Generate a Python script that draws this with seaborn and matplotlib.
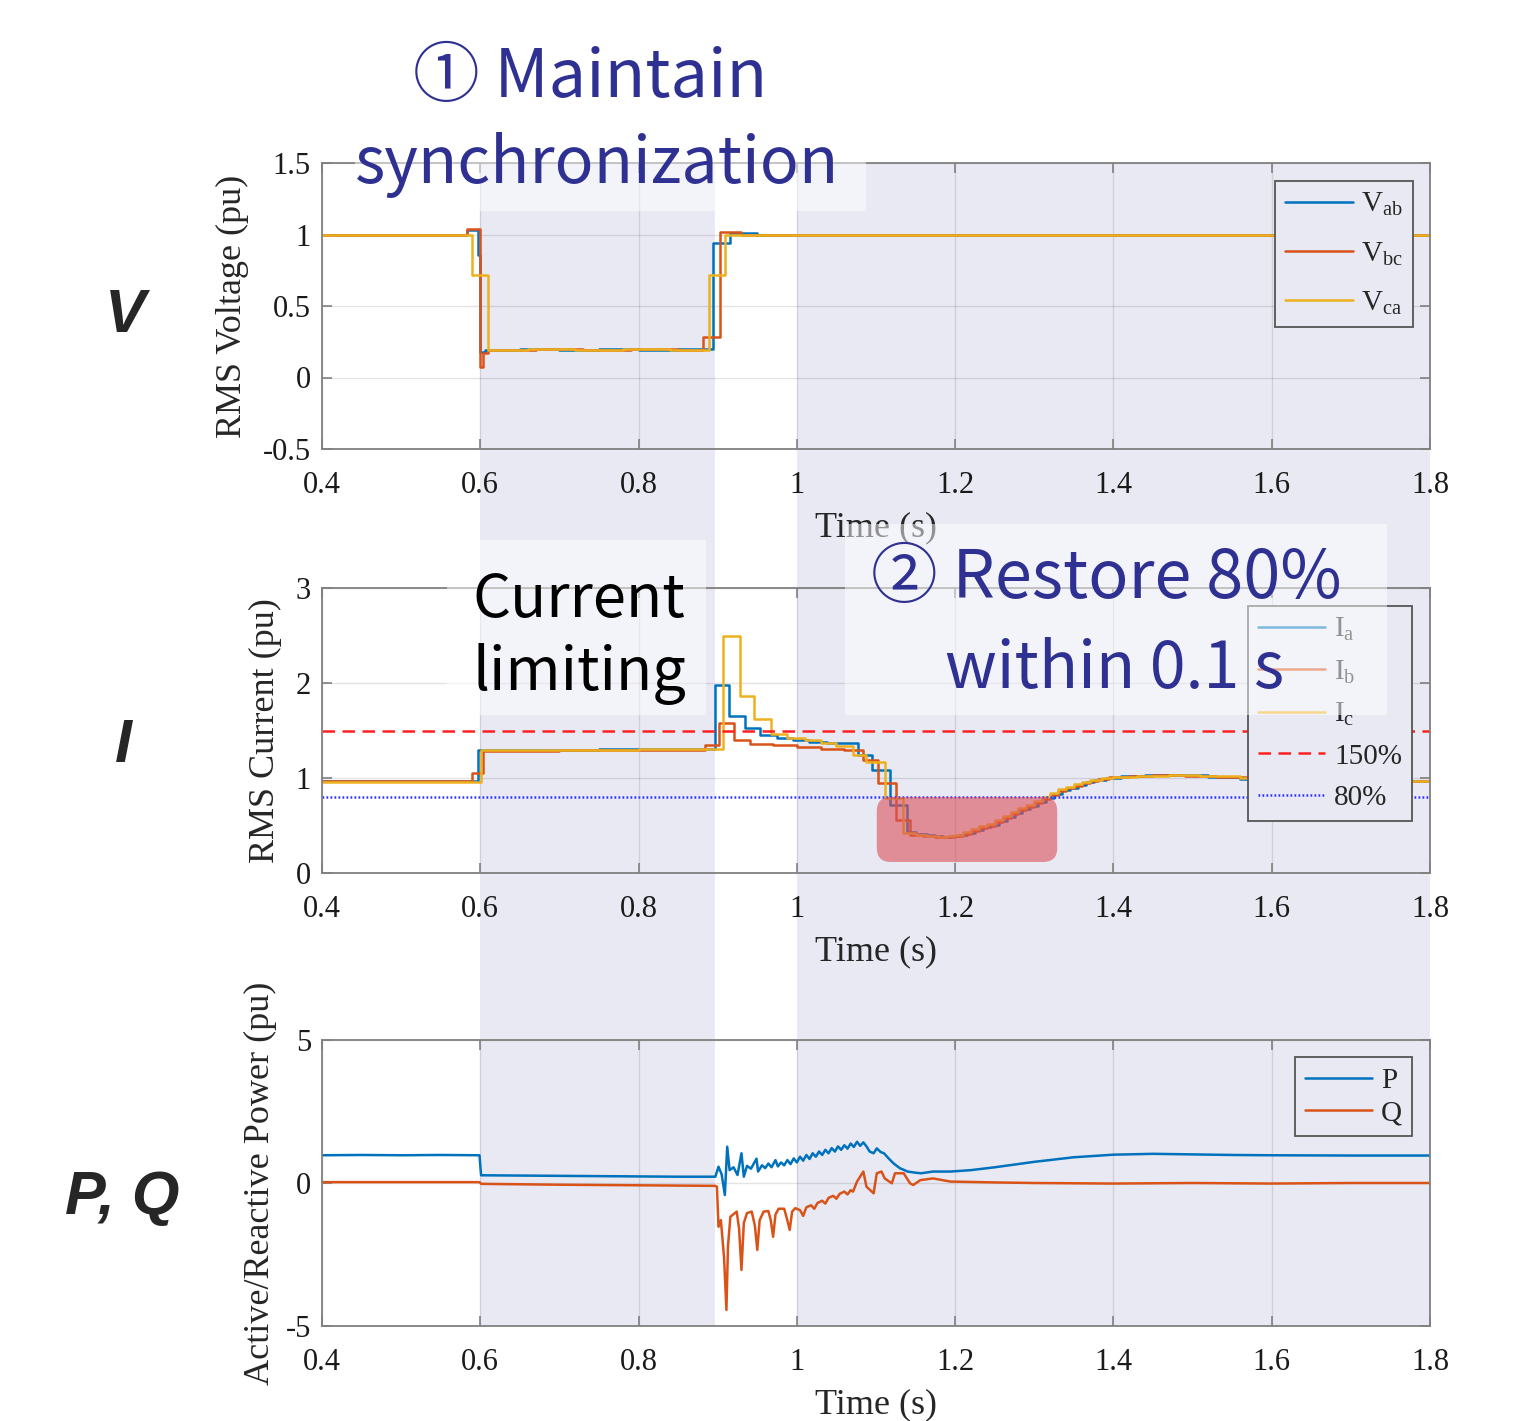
import matplotlib
matplotlib.use("Agg")
import matplotlib.pyplot as plt
import matplotlib.patches as mpatches
import matplotlib.transforms as mtransforms
from matplotlib.ticker import FuncFormatter, MultipleLocator
import seaborn as sns

sns.set_theme(style="ticks")
plt.rcParams["font.family"] = ["Liberation Serif", "DejaVu Serif"]
plt.rcParams["mathtext.fontset"] = "custom"
plt.rcParams["mathtext.rm"] = "Liberation Serif"
plt.rcParams["mathtext.it"] = "Liberation Serif:italic"
plt.rcParams["axes.unicode_minus"] = False

BLUE, ORANGE, YELLOW = "#0072BD", "#D95319", "#EDB120"
SHADE = "#e8e9f3"
NAVY = "#2e3192"
SPINE = "#808080"

# ---- RMS voltage (pu), stepwise ----
T_VAB = [0.40, 0.583, 0.597, 0.600, 0.606, 0.65, 0.70, 0.75, 0.80, 0.85, 0.894, 0.915, 0.95, 1.10, 1.30, 1.50, 1.80]
V_AB = [1.00, 1.03, 0.86, 0.18, 0.19, 0.20, 0.19, 0.20, 0.19, 0.20, 0.94, 1.01, 1.00, 1.00, 1.00, 1.00, 1.00]
T_VBC = [0.40, 0.583, 0.600, 0.603, 0.61, 0.67, 0.73, 0.79, 0.85, 0.881, 0.903, 0.93, 1.10, 1.30, 1.50, 1.80]
V_BC = [1.00, 1.04, 0.07, 0.17, 0.19, 0.20, 0.19, 0.20, 0.19, 0.28, 1.02, 1.00, 1.00, 1.00, 1.00, 1.00]
T_VCA = [0.40, 0.589, 0.610, 0.66, 0.72, 0.78, 0.84, 0.889, 0.909, 0.95, 1.20, 1.50, 1.80]
V_CA = [1.00, 0.72, 0.19, 0.20, 0.19, 0.20, 0.19, 0.72, 1.00, 1.00, 1.00, 1.00, 1.00]

# ---- RMS current (pu), stepwise ----
T_IA = [0.40, 0.50, 0.597, 0.65, 0.75, 0.85, 0.897, 0.914, 0.934, 0.953, 0.975, 0.995, 1.015, 1.038,
        1.077, 1.095, 1.118, 1.139, 1.150, 1.165, 1.175, 1.185, 1.195, 1.205, 1.215, 1.225, 1.235,
        1.245, 1.255, 1.265, 1.275, 1.285, 1.295, 1.305, 1.315, 1.325, 1.335, 1.345, 1.355, 1.365,
        1.375, 1.39, 1.41, 1.44, 1.48, 1.52, 1.56, 1.62, 1.70, 1.80]
I_A = [0.97, 0.97, 1.29, 1.30, 1.31, 1.31, 1.98, 1.65, 1.53, 1.45, 1.42, 1.40, 1.38, 1.37,
       1.24, 1.08, 0.72, 0.43, 0.41, 0.40, 0.39, 0.38, 0.39, 0.40, 0.42, 0.45, 0.48,
       0.51, 0.55, 0.59, 0.63, 0.67, 0.71, 0.75, 0.79, 0.83, 0.87, 0.90, 0.93, 0.96,
       0.98, 1.00, 1.02, 1.03, 1.03, 1.01, 0.99, 0.98, 0.97, 0.97]
T_IB = [0.40, 0.50, 0.590, 0.603, 0.70, 0.80, 0.884, 0.901, 0.920, 0.941, 0.97, 1.00, 1.03, 1.06,
        1.083, 1.103, 1.125, 1.143, 1.16, 1.175, 1.19, 1.20, 1.21, 1.22, 1.23, 1.24, 1.25,
        1.26, 1.27, 1.28, 1.29, 1.30, 1.31, 1.32, 1.33, 1.34, 1.35, 1.36, 1.37, 1.38,
        1.395, 1.42, 1.45, 1.49, 1.53, 1.58, 1.64, 1.72, 1.80]
I_B = [0.97, 0.97, 1.05, 1.28, 1.29, 1.30, 1.35, 1.58, 1.40, 1.36, 1.35, 1.33, 1.31, 1.29,
       1.19, 0.95, 0.56, 0.40, 0.39, 0.38, 0.38, 0.39, 0.41, 0.44, 0.47, 0.50, 0.54,
       0.58, 0.62, 0.66, 0.70, 0.74, 0.78, 0.82, 0.86, 0.89, 0.92, 0.95, 0.97, 0.99,
       1.01, 1.02, 1.03, 1.02, 1.01, 0.99, 0.98, 0.97, 0.97]
T_IC = [0.40, 0.50, 0.601, 0.70, 0.80, 0.88, 0.907, 0.928, 0.946, 0.967, 0.988, 1.01, 1.03, 1.05,
        1.071, 1.087, 1.111, 1.134, 1.15, 1.165, 1.18, 1.19, 1.20, 1.21, 1.22, 1.23, 1.24,
        1.25, 1.26, 1.27, 1.28, 1.29, 1.30, 1.31, 1.32, 1.33, 1.34, 1.35, 1.36, 1.37,
        1.385, 1.40, 1.43, 1.47, 1.51, 1.56, 1.62, 1.70, 1.80]
I_C = [0.96, 0.96, 1.30, 1.30, 1.31, 1.31, 2.49, 1.86, 1.62, 1.46, 1.42, 1.40, 1.37, 1.34,
       1.24, 1.17, 0.79, 0.42, 0.40, 0.39, 0.38, 0.39, 0.40, 0.43, 0.46, 0.49, 0.52,
       0.56, 0.60, 0.64, 0.68, 0.72, 0.76, 0.80, 0.84, 0.88, 0.91, 0.94, 0.96, 0.98,
       1.00, 1.01, 1.02, 1.03, 1.02, 1.00, 0.98, 0.97, 0.97]
I_LIMIT, I_TARGET = 1.5, 0.8

# ---- active / reactive power (pu) ----
T_P = [0.400, 0.450, 0.500, 0.550, 0.599, 0.601, 0.650, 0.700, 0.750, 0.800, 0.850, 0.897,
       0.901, 0.905, 0.909, 0.912, 0.915, 0.920, 0.925, 0.930, 0.933, 0.937, 0.942, 0.949,
       0.951, 0.956, 0.960, 0.964, 0.968, 0.973, 0.976, 0.980, 0.984, 0.988, 0.992, 0.996,
       1.000, 1.004, 1.008, 1.012, 1.016, 1.020, 1.024, 1.028, 1.032, 1.036, 1.040, 1.044,
       1.048, 1.052, 1.056, 1.060, 1.064, 1.068, 1.072, 1.076, 1.080, 1.084, 1.088, 1.092,
       1.097, 1.101, 1.106, 1.110, 1.116, 1.122, 1.130, 1.140, 1.150, 1.157, 1.172, 1.194,
       1.22, 1.25, 1.30, 1.35, 1.40, 1.45, 1.50, 1.55, 1.60, 1.70, 1.80]
P = [0.97, 0.98, 0.97, 0.98, 0.97, 0.27, 0.26, 0.25, 0.24, 0.23, 0.22, 0.22,
     0.57, 0.30, -0.42, 1.27, 0.45, 0.55, 0.28, 1.04, 0.22, 0.60, 0.50, 0.85,
     0.40, 0.62, 0.52, 0.68, 0.55, 0.80, 0.58, 0.72, 0.62, 0.80, 0.66, 0.86,
     0.72, 0.92, 0.78, 0.98, 0.84, 1.04, 0.92, 1.10, 0.98, 1.16, 1.04, 1.22,
     1.10, 1.28, 1.16, 1.32, 1.20, 1.38, 1.26, 1.44, 1.30, 1.42, 1.28, 1.10,
     1.04, 1.21, 1.08, 1.04, 0.86, 0.69, 0.52, 0.40, 0.36, 0.34, 0.40, 0.40,
     0.45, 0.55, 0.74, 0.90, 0.99, 1.02, 1.00, 0.98, 0.97, 0.96, 0.96]
T_Q = [0.400, 0.500, 0.599, 0.601, 0.700, 0.800, 0.897, 0.899, 0.901, 0.904, 0.908, 0.911,
       0.913, 0.916, 0.924, 0.927, 0.930, 0.933, 0.937, 0.943, 0.947, 0.950, 0.953, 0.958,
       0.964, 0.967, 0.970, 0.973, 0.977, 0.984, 0.987, 0.991, 0.994, 0.998, 1.004, 1.008,
       1.012, 1.018, 1.022, 1.026, 1.032, 1.036, 1.040, 1.046, 1.050, 1.054, 1.060, 1.064,
       1.068, 1.071, 1.076, 1.084, 1.088, 1.097, 1.101, 1.107, 1.111, 1.120, 1.124, 1.135,
       1.143, 1.147, 1.156, 1.172, 1.194, 1.25, 1.30, 1.40, 1.50, 1.60, 1.70, 1.80]
Q = [0.03, 0.03, 0.03, -0.03, -0.06, -0.08, -0.10, -0.13, -1.53, -1.30, -2.60, -4.44,
     -2.20, -1.18, -1.00, -1.60, -3.04, -1.40, -1.05, -1.00, -1.50, -2.34, -1.30, -1.00,
     -0.98, -1.30, -1.88, -1.10, -0.90, -0.90, -1.20, -1.64, -1.00, -0.88, -0.95, -1.15,
     -0.85, -0.78, -0.90, -0.70, -0.62, -0.72, -0.52, -0.45, -0.55, -0.38, -0.30, -0.40,
     -0.25, -0.30, 0.05, 0.40, -0.13, -0.36, 0.34, 0.40, 0.16, -0.01, 0.34, 0.34,
     -0.01, -0.07, 0.10, 0.16, 0.05, 0.02, 0.00, -0.02, 0.00, -0.02, 0.00, 0.00]

SHADED = [(0.6, 0.897), (1.0, 1.8)]
HIGHLIGHT = (1.101, 1.329, 0.116, 0.80)   # t0, t1, i0, i1 of the red trough box

W, H = 1527, 1421
fig = plt.figure(figsize=(W / 100, H / 100), dpi=100)


def fig_box(x0, y0, x1, y1):
    return [x0 / W, 1 - y1 / H, (x1 - x0) / W, (y1 - y0) / H]


ax1 = fig.add_axes(fig_box(322, 163, 1430, 449))
ax2 = fig.add_axes(fig_box(322, 588, 1430, 873))
ax3 = fig.add_axes(fig_box(322, 1040, 1430, 1326))

fmt = FuncFormatter(lambda v, _: f"{v:g}")
for ax in (ax1, ax2, ax3):
    ax.set_facecolor("none")
    ax.set_xlim(0.4, 1.8)
    ax.xaxis.set_major_locator(MultipleLocator(0.2))
    ax.xaxis.set_major_formatter(fmt)
    ax.yaxis.set_major_formatter(fmt)
    ax.grid(True, color="k", alpha=0.12, lw=1.0)
    for s in ax.spines.values():
        s.set_color(SPINE)
        s.set_linewidth(1.3)
    ax.tick_params(direction="in", length=7, width=1.2, color=SPINE,
                   top=True, right=True, labelsize=22, labelcolor="#1a1a1a")
    ax.tick_params(axis="x", pad=16)
    ax.tick_params(axis="y", pad=8)
    ax.set_xlabel("Time (s)", fontsize=26, labelpad=8)

lw = 1.8
sns.lineplot(x=T_VAB, y=V_AB, ax=ax1, color=BLUE, lw=lw, drawstyle="steps-post", estimator=None)
sns.lineplot(x=T_VBC, y=V_BC, ax=ax1, color=ORANGE, lw=lw, drawstyle="steps-post", estimator=None)
sns.lineplot(x=T_VCA, y=V_CA, ax=ax1, color=YELLOW, lw=lw, drawstyle="steps-post", estimator=None)
ax1.set_ylim(-0.5, 1.5)
ax1.yaxis.set_major_locator(MultipleLocator(0.5))
ax1.set_ylabel("RMS Voltage (pu)", fontsize=26, labelpad=10)
leg_kw = dict(loc="upper right", borderaxespad=0, fontsize=21, fancybox=False,
              edgecolor="#555555", facecolor=SHADE, framealpha=1,
              handlelength=2.3, handletextpad=0.3, borderpad=0.35)
leg = ax1.legend(ax1.get_lines()[:3],
                 [r"$\mathrm{V_{ab}}$", r"$\mathrm{V_{bc}}$", r"$\mathrm{V_{ca}}$"],
                 bbox_to_anchor=(0.985, 0.937), labelspacing=0.75, **leg_kw)
leg.get_frame().set_linewidth(1.3)

sns.lineplot(x=T_IA, y=I_A, ax=ax2, color=BLUE, lw=lw, drawstyle="steps-post", estimator=None)
sns.lineplot(x=T_IB, y=I_B, ax=ax2, color=ORANGE, lw=lw, drawstyle="steps-post", estimator=None)
sns.lineplot(x=T_IC, y=I_C, ax=ax2, color=YELLOW, lw=lw, drawstyle="steps-post", estimator=None)
ax2.axhline(I_LIMIT, color="#ff2020", lw=1.8, ls=(0, (5, 3)))
ax2.axhline(I_TARGET, color="#3030ff", lw=1.8, ls=(0, (0.7, 0.9)))
ax2.set_ylim(0, 3)
ax2.yaxis.set_major_locator(MultipleLocator(1))
ax2.set_ylabel("RMS Current (pu)", fontsize=26, labelpad=10)
leg = ax2.legend(ax2.get_lines()[:5],
                 [r"$\mathrm{I_{a}}$", r"$\mathrm{I_{b}}$", r"$\mathrm{I_{c}}$", "150%", "80%"],
                 bbox_to_anchor=(0.984, 0.937), labelspacing=0.52, **leg_kw)
leg.get_frame().set_linewidth(1.3)

t0, t1, i0, i1 = HIGHLIGHT
aspect = (1108 / 1.4) / (285 / 3.0)
ax2.add_patch(mpatches.FancyBboxPatch(
    (t0, i0), t1 - t0, i1 - i0,
    boxstyle=f"round,pad=0,rounding_size={14 / (1108 / 1.4):.4f}",
    mutation_aspect=aspect, facecolor="#dc505a", edgecolor="none", alpha=0.6, zorder=5))

sns.lineplot(x=T_P, y=P, ax=ax3, color=BLUE, lw=lw, estimator=None)
sns.lineplot(x=T_Q, y=Q, ax=ax3, color=ORANGE, lw=lw, estimator=None)
ax3.set_ylim(-5, 5)
ax3.yaxis.set_major_locator(MultipleLocator(5))
ax3.set_ylabel("Active/Reactive Power (pu)", fontsize=26, labelpad=6)
leg = ax3.legend(ax3.get_lines()[:2], ["P", "Q"],
                 bbox_to_anchor=(0.984, 0.94), labelspacing=0.2, **leg_kw)
leg.get_frame().set_linewidth(1.3)

# shaded time windows across all three panels
y_lo = ax3.get_position().y0
y_hi = ax1.get_position().y1
trans = mtransforms.blended_transform_factory(ax1.transData, fig.transFigure)
for a, b in SHADED:
    fig.patches.append(mpatches.Rectangle((a, y_lo), b - a, y_hi - y_lo, transform=trans,
                                          facecolor=SHADE, edgecolor="none", zorder=-1))

# translucent boxes behind the callouts
for x0, y0, x1, y1 in [(355, 25, 866, 211), (845, 524, 1387, 715), (447, 540, 706, 715)]:
    l, b, w, h = fig_box(x0, y0, x1, y1)
    fig.patches.append(mpatches.Rectangle((l, b), w, h, transform=fig.transFigure,
                                          facecolor="white", edgecolor="none", alpha=0.5, zorder=2))

cjk = ["Noto Sans CJK SC", "DejaVu Sans"]
for x, y, s, c, size, ha in [
    (590, 97, "① Maintain", NAVY, 48, "center"),
    (597, 183, "synchronization", NAVY, 46.5, "center"),
    (1106, 598, "② Restore 80%", NAVY, 48, "center"),
    (1115, 688, "within 0.1 s", NAVY, 46.5, "center"),
    (472, 617, "Current", "black", 43, "left"),
    (472, 690, "limiting", "black", 43, "left"),
]:
    fig.text(x / W, 1 - y / H, s, color=c, fontsize=size, ha=ha, va="baseline", family=cjk)

for x, y, s in [(125, 316, "V"), (123, 747, "I"), (122, 1198, "P, Q")]:
    fig.text(x / W, 1 - y / H, s, fontsize=44, fontweight="bold", fontstyle="italic",
             ha="center", va="center", family=["Liberation Sans", "DejaVu Sans"])

fig.savefig("out.png", dpi=100)
